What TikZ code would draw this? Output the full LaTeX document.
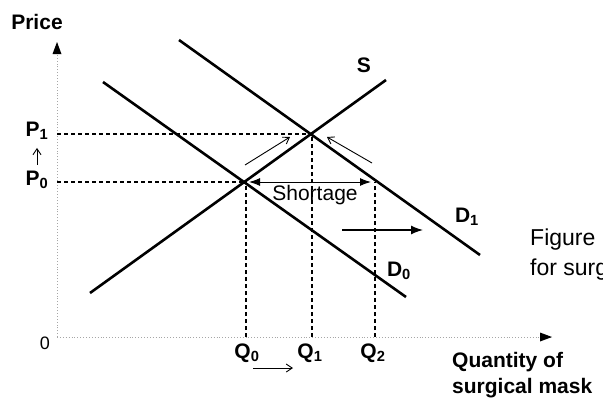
\documentclass[tikz,border=0pt]{standalone}
\usepackage{fontspec}
\setmainfont{Liberation Sans}
\usetikzlibrary{arrows.meta}
\begin{document}
\begin{tikzpicture}[x=1pt, y=-1pt,
    curve/.style={line width=2.6pt},
    guide/.style={line width=1.2pt, dash pattern=on 4pt off 3pt},
    axisline/.style={gray!70, line width=0.9pt, dotted},
    lbl/.style={font=\fontsize{21}{26}\selectfont\bfseries, inner sep=0pt},
    hand/.style={line width=0.9pt, -{Straight Barb[length=6pt,width=8pt]}}]
  \useasboundingbox (0,0) rectangle (603,399);
  \clip (0,0) rectangle (603,399);

  % axes
  \coordinate (O) at (57,337);
  \coordinate (ytop) at (57,42);
  \coordinate (xend) at (552,337);
  \draw[axisline] (O) -- (ytop);
  \draw[axisline] (O) -- (xend);
  \fill (ytop) -- ++(-4.5,12) -- ++(9,0) -- cycle;
  \fill (xend) -- ++(-12,-4.5) -- ++(0,9) -- cycle;

  \node[lbl] (price) at (37,22) {Price};
  \node[font=\fontsize{18}{20}\selectfont, inner sep=0pt] (zero) at (45,343) {0};

  % curves
  \coordinate (s0) at (90,293);
  \coordinate (s1) at (386,80);
  \coordinate (d0a) at (103,82);
  \coordinate (d0b) at (406,297);
  \coordinate (d1a) at (179,40);
  \coordinate (d1b) at (480,255);
  \draw[curve] (s0) -- (s1);
  \draw[curve] (d0a) -- (d0b);
  \draw[curve] (d1a) -- (d1b);

  \node[lbl] (slab) at (364,65) {S};
  \node[lbl] (d1lab) at (467,217) {D\textsubscript{1}};
  \node[lbl] (d0lab) at (399,271) {D\textsubscript{0}};

  % equilibria
  \coordinate (e0) at (246,182);
  \coordinate (e1) at (312,134);
  \coordinate (e2) at (375,182);

  \draw[guide] (O |- e1) -- (e1);
  \draw[guide] (O |- e0) -- (e0);
  \draw[guide] (e0 |- O) -- (e0);
  \draw[guide] (e1 |- O) -- (e1);
  \draw[guide] (e2 |- O) -- (e2);

  \node[lbl] (p1) at (37,131) {P\textsubscript{1}};
  \node[lbl] (p0) at (37,180) {P\textsubscript{0}};
  \draw[hand, shorten <=6pt, shorten >=8pt] (p0.north) -- (p1.south);

  \node[lbl] (q0) at (247,353) {Q\textsubscript{0}};
  \node[lbl] (q1) at (310,353) {Q\textsubscript{1}};
  \node[lbl] (q2) at (373,353) {Q\textsubscript{2}};

  % shortage
  \draw[line width=1pt, {Latex[length=11pt,width=8pt]}-{Latex[length=11pt,width=8pt]}, shorten <=3pt, shorten >=4pt] (e0) -- (e2);
  \node[font=\fontsize{21}{24}\selectfont, inner sep=0pt] (short) at (315,195) {Shortage};

  % shift and movements
  \coordinate (sh0) at (342,230);
  \coordinate (sh1) at (423,230);
  \draw[line width=1.3pt, -{Latex[length=12pt,width=9pt]}] (sh0) -- (sh1);

  \coordinate (m0) at (245,165);
  \coordinate (m1) at (290,137);
  \coordinate (n0) at (372,163);
  \coordinate (n1) at (327,137);
  \coordinate (k0) at (253,368);
  \coordinate (k1) at (293,368);
  \draw[hand] (m0) -- (m1);
  \draw[hand] (n0) -- (n1);
  \draw[hand] (k0) -- (k1);

  \node[lbl, anchor=west, align=left] (qty) at (452,375) {Quantity of\\surgical mask};
  \node[font=\fontsize{23}{30}\selectfont, anchor=west, align=left, inner sep=0pt] (fig) at (530,255) {Figure\\for surg};
\end{tikzpicture}
\end{document}
